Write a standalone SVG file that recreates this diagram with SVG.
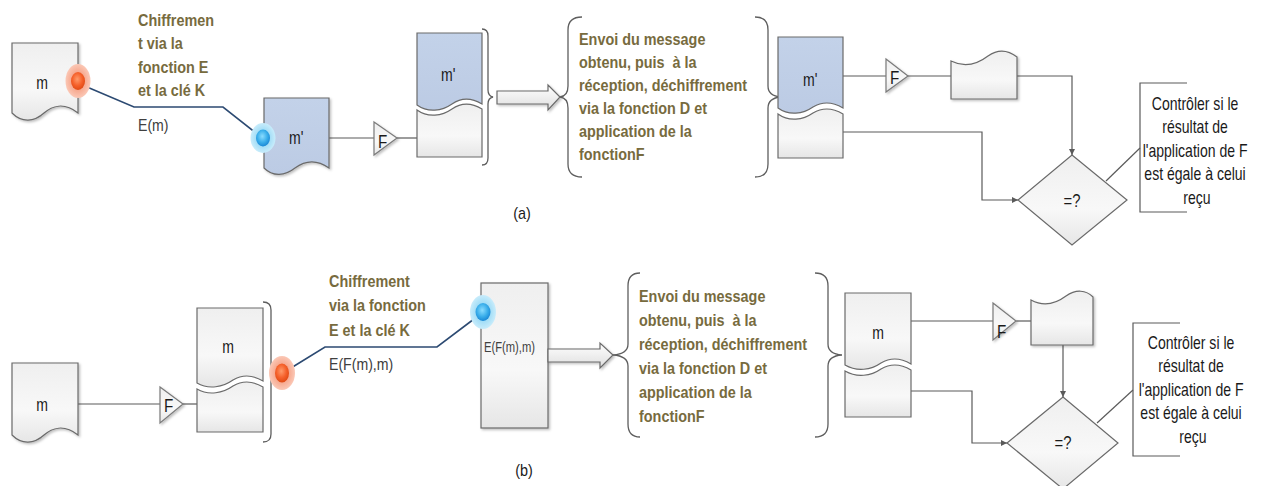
<svg xmlns="http://www.w3.org/2000/svg" width="1268" height="486" viewBox="0 0 1268 486">
  <style>
    .shape { stroke: #6a6a6a; stroke-width: 1.2; }
    .doc { fill: url(#gGray); }
    .blue { fill: url(#gBlue); }
    .tri { fill: url(#gGray); stroke: #7a7a7a; stroke-width: 1.2; filter: url(#sh); }
    .blk { fill: url(#gArrow); stroke: #6a6a6a; stroke-width: 1.2; filter: url(#sh); }
    .conn { fill: none; stroke: #5a5a5a; stroke-width: 1.2; }
    .navy { fill: none; stroke: #2c4a72; stroke-width: 1.6; }
    .brace { fill: none; stroke: #5e5e5e; stroke-width: 1.3; }
    .lbl { font-family: "Liberation Sans", Arial, sans-serif; font-size: 18.5px; fill: #1a1a1a; }
    .fn { font-family: "Liberation Sans", Arial, sans-serif; font-size: 19px; fill: #1a1a1a; }
    .olive { font-family: "Liberation Sans", Arial, sans-serif; font-size: 16px; font-weight: bold; fill: #776b3e; }
    .note { font-family: "Liberation Sans", Arial, sans-serif; font-size: 18px; fill: #1a1a1a; }
    .sub { font-family: "Liberation Sans", Arial, sans-serif; font-size: 17px; fill: #404040; }
  </style>
  <defs>
    <linearGradient id="gGray" x1="0" y1="0" x2="0" y2="1">
      <stop offset="0" stop-color="#efefef"/>
      <stop offset="0.6" stop-color="#f8f8f8"/>
      <stop offset="1" stop-color="#e6e6e6"/>
    </linearGradient>
    <linearGradient id="gBlue" x1="0" y1="0" x2="0" y2="1">
      <stop offset="0" stop-color="#c3d2e9"/>
      <stop offset="1" stop-color="#bccbe4"/>
    </linearGradient>
    <linearGradient id="gArrow" x1="0" y1="0" x2="0" y2="1">
      <stop offset="0" stop-color="#ffffff"/>
      <stop offset="1" stop-color="#dedede"/>
    </linearGradient>
    <radialGradient id="gRed" cx="0.45" cy="0.4" r="0.6">
      <stop offset="0" stop-color="#ff9a6a"/>
      <stop offset="0.6" stop-color="#f5602a"/>
      <stop offset="1" stop-color="#e04a14"/>
    </radialGradient>
    <radialGradient id="gRedHalo" cx="0.5" cy="0.5" r="0.5">
      <stop offset="0.5" stop-color="#f6a68c"/>
      <stop offset="1" stop-color="#fbc8b6"/>
    </radialGradient>
    <radialGradient id="gBlueDot" cx="0.45" cy="0.4" r="0.6">
      <stop offset="0" stop-color="#8adcff"/>
      <stop offset="0.6" stop-color="#3aaeea"/>
      <stop offset="1" stop-color="#1a88d6"/>
    </radialGradient>
    <radialGradient id="gBlueHalo" cx="0.5" cy="0.5" r="0.5">
      <stop offset="0.5" stop-color="#9fdcf6"/>
      <stop offset="1" stop-color="#c8ecfb"/>
    </radialGradient>
    <filter id="sh" x="-20%" y="-20%" width="150%" height="150%">
      <feDropShadow dx="1.5" dy="1.5" stdDeviation="1" flood-color="#000" flood-opacity="0.25"/>
    </filter>
    <marker id="ah" viewBox="0 0 6 6" refX="6" refY="3" markerWidth="5" markerHeight="5" orient="auto">
      <path d="M0,0 L6,3 L0,6 Z" fill="#5a5a5a"/>
    </marker>
  </defs>

  <rect width="1268" height="486" fill="#ffffff"/>

  <!-- ===== connectors ===== -->
  <g id="connectors">
    <!-- row (a) -->
    <polyline class="navy" points="87,87 134,107 223,107 256,133"/>
    <line class="conn" x1="329" y1="138" x2="374" y2="138"/>
    <line class="conn" x1="397" y1="138" x2="417" y2="138"/>
    <line class="conn" x1="843" y1="76" x2="886" y2="76"/>
    <line class="conn" x1="908" y1="76" x2="951" y2="76"/>
    <polyline class="conn" points="1017,76 1072,76 1072,155" marker-end="url(#ah)"/>
    <polyline class="conn" points="843,132 982,132 982,200 1018,200" marker-end="url(#ah)"/>
    <line class="conn" x1="1106" y1="181" x2="1140" y2="148"/>
    <!-- row (b) -->
    <line class="conn" x1="78" y1="404" x2="160" y2="404"/>
    <line class="conn" x1="183" y1="404" x2="197" y2="404"/>
    <polyline class="navy" points="291,368 325,347 437,347 474,319"/>
    <line class="conn" x1="911" y1="321" x2="993" y2="321"/>
    <line class="conn" x1="1016" y1="321" x2="1031" y2="321"/>
    <line class="conn" x1="1063" y1="345" x2="1063" y2="397" marker-end="url(#ah)"/>
    <polyline class="conn" points="911,391 972,391 972,443 1007,443" marker-end="url(#ah)"/>
    <line class="conn" x1="1097" y1="423" x2="1133" y2="390"/>
  </g>

  <!-- ===== row (a) ===== -->
  <g id="a-doc-m">
    <path class="shape doc" filter="url(#sh)" d="M12,43 H78 V113 C64,102 52,106 44,113 C34,122 22,123 12,113 Z"/>
    <text class="lbl" transform="translate(42,89) scale(0.76,1)" text-anchor="middle">m</text>
  </g>
  <g id="a-dot-red">
    <ellipse cx="78" cy="81" rx="12.5" ry="17" fill="url(#gRedHalo)"/>
    <ellipse cx="78" cy="81" rx="7" ry="9" fill="url(#gRed)"/>
  </g>
  <g id="a-label-enc">
    <text class="olive" transform="translate(138,26) scale(0.9,1)">
      <tspan x="0" y="0">Chiffremen</tspan>
      <tspan x="0" y="23.3">t via la</tspan>
      <tspan x="0" y="46.6">fonction E</tspan>
      <tspan x="0" y="70">et la clé K</tspan>
    </text>
    <text class="sub" transform="translate(138,131) scale(0.83,1)">E(m)</text>
  </g>
  <g id="a-doc-mprime">
    <path class="shape blue" filter="url(#sh)" d="M264,98 H329 V168 C315,158 303,162 295,168 C285,176 273,177 264,168 Z"/>
    <text class="lbl" transform="translate(289,144) scale(0.76,1)">m'</text>
  </g>
  <g id="a-dot-blue">
    <ellipse cx="263" cy="138" rx="12.5" ry="15" fill="url(#gBlueHalo)"/>
    <ellipse cx="263" cy="138" rx="7" ry="8.5" fill="url(#gBlueDot)"/>
  </g>
  <g id="a-func-F1">
    <path class="tri" d="M374,122 L397,138 L374,155 Z"/>
    <text class="fn" transform="translate(378,148) scale(0.8,1)">F</text>
  </g>
  <g id="a-split-doc">
    <path class="shape blue" d="M417,33 H482 V104 C472,98 462,97 452,104 C442,111 428,113 417,105 Z"/>
    <path class="shape doc" d="M417,110 C428,118 442,116 452,109 C462,102 472,103 482,109 V157 H417 Z"/>
    <text class="lbl" transform="translate(441,81) scale(0.76,1)">m'</text>
    <path class="brace" d="M482,29 Q488,29 488,36 V90 Q488,96 493,97 Q488,98 488,104 V158 Q488,165 482,165"/>
  </g>
  <g id="a-send-arrow">
    <path class="blk" d="M497,91 H548 V85 L560,97 L548,110 V104 H497 Z"/>
  </g>
  <g id="a-send-text">
    <path class="brace" d="M582,17 Q568,17 568,30 V86 Q568,96 560,97 Q568,98 568,108 V164 Q568,177 582,177"/>
    <text class="olive" transform="translate(579,45) scale(0.9,1)">
      <tspan x="0" y="0">Envoi du message</tspan>
      <tspan x="0" y="23">obtenu, puis&#160; à la</tspan>
      <tspan x="0" y="46">réception, déchiffrement</tspan>
      <tspan x="0" y="69">via la fonction D et</tspan>
      <tspan x="0" y="92">application de la</tspan>
      <tspan x="0" y="115">fonctionF</tspan>
    </text>
    <path class="brace" d="M755,17 Q768,17 768,30 V86 Q768,96 781,97 Q768,98 768,108 V164 Q768,177 755,177"/>
  </g>
  <g id="a-recv-doc">
    <path class="shape blue" d="M778,37 H843 V108 C833,102 823,101 813,107 C803,114 789,116 778,108 Z"/>
    <path class="shape doc" d="M778,114 C789,122 803,120 813,113 C823,107 833,108 843,114 V158 H778 Z"/>
    <text class="lbl" transform="translate(803,86) scale(0.76,1)">m'</text>
  </g>
  <g id="a-func-F2">
    <path class="tri" d="M886,59 L908,76 L886,92 Z"/>
    <text class="fn" transform="translate(890,84) scale(0.8,1)">F</text>
  </g>
  <g id="a-result-doc">
    <path class="shape doc" filter="url(#sh)" d="M951,99 V61 C963,67 975,66 988,56 C998,49 1008,50 1017,57 V99 Z"/>
  </g>
  <g id="a-compare">
    <path class="shape doc" d="M1072,155 L1127,200 L1072,245 L1018,200 Z"/>
    <text class="lbl" transform="translate(1072,207) scale(0.8,1)" text-anchor="middle">=?</text>
  </g>
  <g id="a-note">
    <polyline class="conn" points="1187,83 1140,83 1140,212 1187,212"/>
    <text class="note" transform="translate(1197,110) scale(0.78,1)" text-anchor="middle">
      <tspan x="0" y="0">Contrôler si le</tspan>
      <tspan x="0" y="23.5">résultat de</tspan>
      <tspan x="0" y="47">l'application de F</tspan>
      <tspan x="0" y="70.5">est égale à celui</tspan>
      <tspan x="0" y="94">reçu</tspan>
    </text>
  </g>
  <text class="sub" transform="translate(522,219) scale(0.9,1)" text-anchor="middle" style="font-size:16px;fill:#1a1a1a">(a)</text>

  <!-- ===== row (b) ===== -->
  <g id="b-doc-m">
    <path class="shape doc" filter="url(#sh)" d="M12,363 H78 V435 C64,424 52,428 44,435 C34,444 22,445 12,435 Z"/>
    <text class="lbl" transform="translate(42,411) scale(0.76,1)" text-anchor="middle">m</text>
  </g>
  <g id="b-func-F1">
    <path class="tri" d="M160,387 L183,404 L160,423 Z"/>
    <text class="fn" transform="translate(164,412) scale(0.8,1)">F</text>
  </g>
  <g id="b-split-doc">
    <path class="shape doc" d="M197,308 H263 V381 C253,375 243,374 233,380 C223,387 209,390 197,383 Z"/>
    <path class="shape doc" d="M197,389 C209,396 223,393 233,386 C243,380 253,381 263,387 V432 H197 Z"/>
    <text class="lbl" transform="translate(228,353) scale(0.76,1)" text-anchor="middle">m</text>
    <path class="brace" d="M263,302 Q271,302 271,310 V364 Q271,370 276,372 Q271,374 271,380 V434 Q271,442 263,442"/>
  </g>
  <g id="b-dot-red">
    <ellipse cx="282" cy="373" rx="13" ry="17" fill="url(#gRedHalo)"/>
    <ellipse cx="282" cy="373" rx="7" ry="9.5" fill="url(#gRed)"/>
  </g>
  <g id="b-label-enc">
    <text class="olive" transform="translate(329,287) scale(0.9,1)">
      <tspan x="0" y="0">Chiffrement</tspan>
      <tspan x="0" y="24.5">via la fonction</tspan>
      <tspan x="0" y="49">E et la clé K</tspan>
    </text>
    <text class="sub" transform="translate(329,370) scale(0.83,1)">E(F(m),m)</text>
  </g>
  <g id="b-cipher-box">
    <rect class="shape doc" filter="url(#sh)" x="481" y="283" width="67" height="145"/>
    <text class="sub" transform="translate(484,352) scale(0.8,1)" style="font-size:14px">E(F(m),m)</text>
  </g>
  <g id="b-dot-blue">
    <ellipse cx="483" cy="312" rx="13" ry="17" fill="url(#gBlueHalo)"/>
    <ellipse cx="483" cy="312" rx="7.5" ry="9" fill="url(#gBlueDot)"/>
  </g>
  <g id="b-send-arrow">
    <path class="blk" d="M548,349 H600 V343 L613,355 L600,368 V362 H548 Z"/>
  </g>
  <g id="b-send-text">
    <path class="brace" d="M640,273 Q628,273 628,286 V344 Q628,354 613,355 Q628,356 628,366 V424 Q628,437 640,437"/>
    <text class="olive" transform="translate(639,302) scale(0.9,1)">
      <tspan x="0" y="0">Envoi du message</tspan>
      <tspan x="0" y="24">obtenu, puis&#160; à la</tspan>
      <tspan x="0" y="48">réception, déchiffrement</tspan>
      <tspan x="0" y="72">via la fonction D et</tspan>
      <tspan x="0" y="96">application de la</tspan>
      <tspan x="0" y="120">fonctionF</tspan>
    </text>
    <path class="brace" d="M815,273 Q828,273 828,286 V344 Q828,354 842,355 Q828,356 828,366 V424 Q828,437 815,437"/>
  </g>
  <g id="b-recv-doc">
    <path class="shape doc" d="M845,293 H911 V364 C901,358 891,357 881,363 C871,370 857,372 845,365 Z"/>
    <path class="shape doc" d="M845,371 C857,378 871,376 881,369 C891,363 901,364 911,370 V417 H845 Z"/>
    <text class="lbl" transform="translate(878,339) scale(0.76,1)" text-anchor="middle">m</text>
  </g>
  <g id="b-func-F2">
    <path class="tri" d="M993,303 L1016,321 L993,340 Z"/>
    <text class="fn" transform="translate(997,338) scale(0.8,1)">F</text>
  </g>
  <g id="b-result-doc">
    <path class="shape doc" filter="url(#sh)" d="M1031,345 V300 C1042,306 1054,305 1066,296 C1076,289 1086,290 1093,297 V345 Z"/>
  </g>
  <g id="b-compare">
    <path class="shape doc" d="M1063,397 L1118,443 L1063,489 L1007,443 Z"/>
    <text class="lbl" transform="translate(1063,449) scale(0.8,1)" text-anchor="middle">=?</text>
  </g>
  <g id="b-note">
    <polyline class="conn" points="1180,323 1133,323 1133,456 1180,456"/>
    <text class="note" transform="translate(1193,349) scale(0.78,1)" text-anchor="middle">
      <tspan x="0" y="0">Contrôler si le</tspan>
      <tspan x="0" y="23.5">résultat de</tspan>
      <tspan x="0" y="47">l'application de F</tspan>
      <tspan x="0" y="70.5">est égale à celui</tspan>
      <tspan x="0" y="94">reçu</tspan>
    </text>
  </g>
  <text class="sub" transform="translate(524,476) scale(0.9,1)" text-anchor="middle" style="font-size:16px;fill:#1a1a1a">(b)</text>
</svg>
